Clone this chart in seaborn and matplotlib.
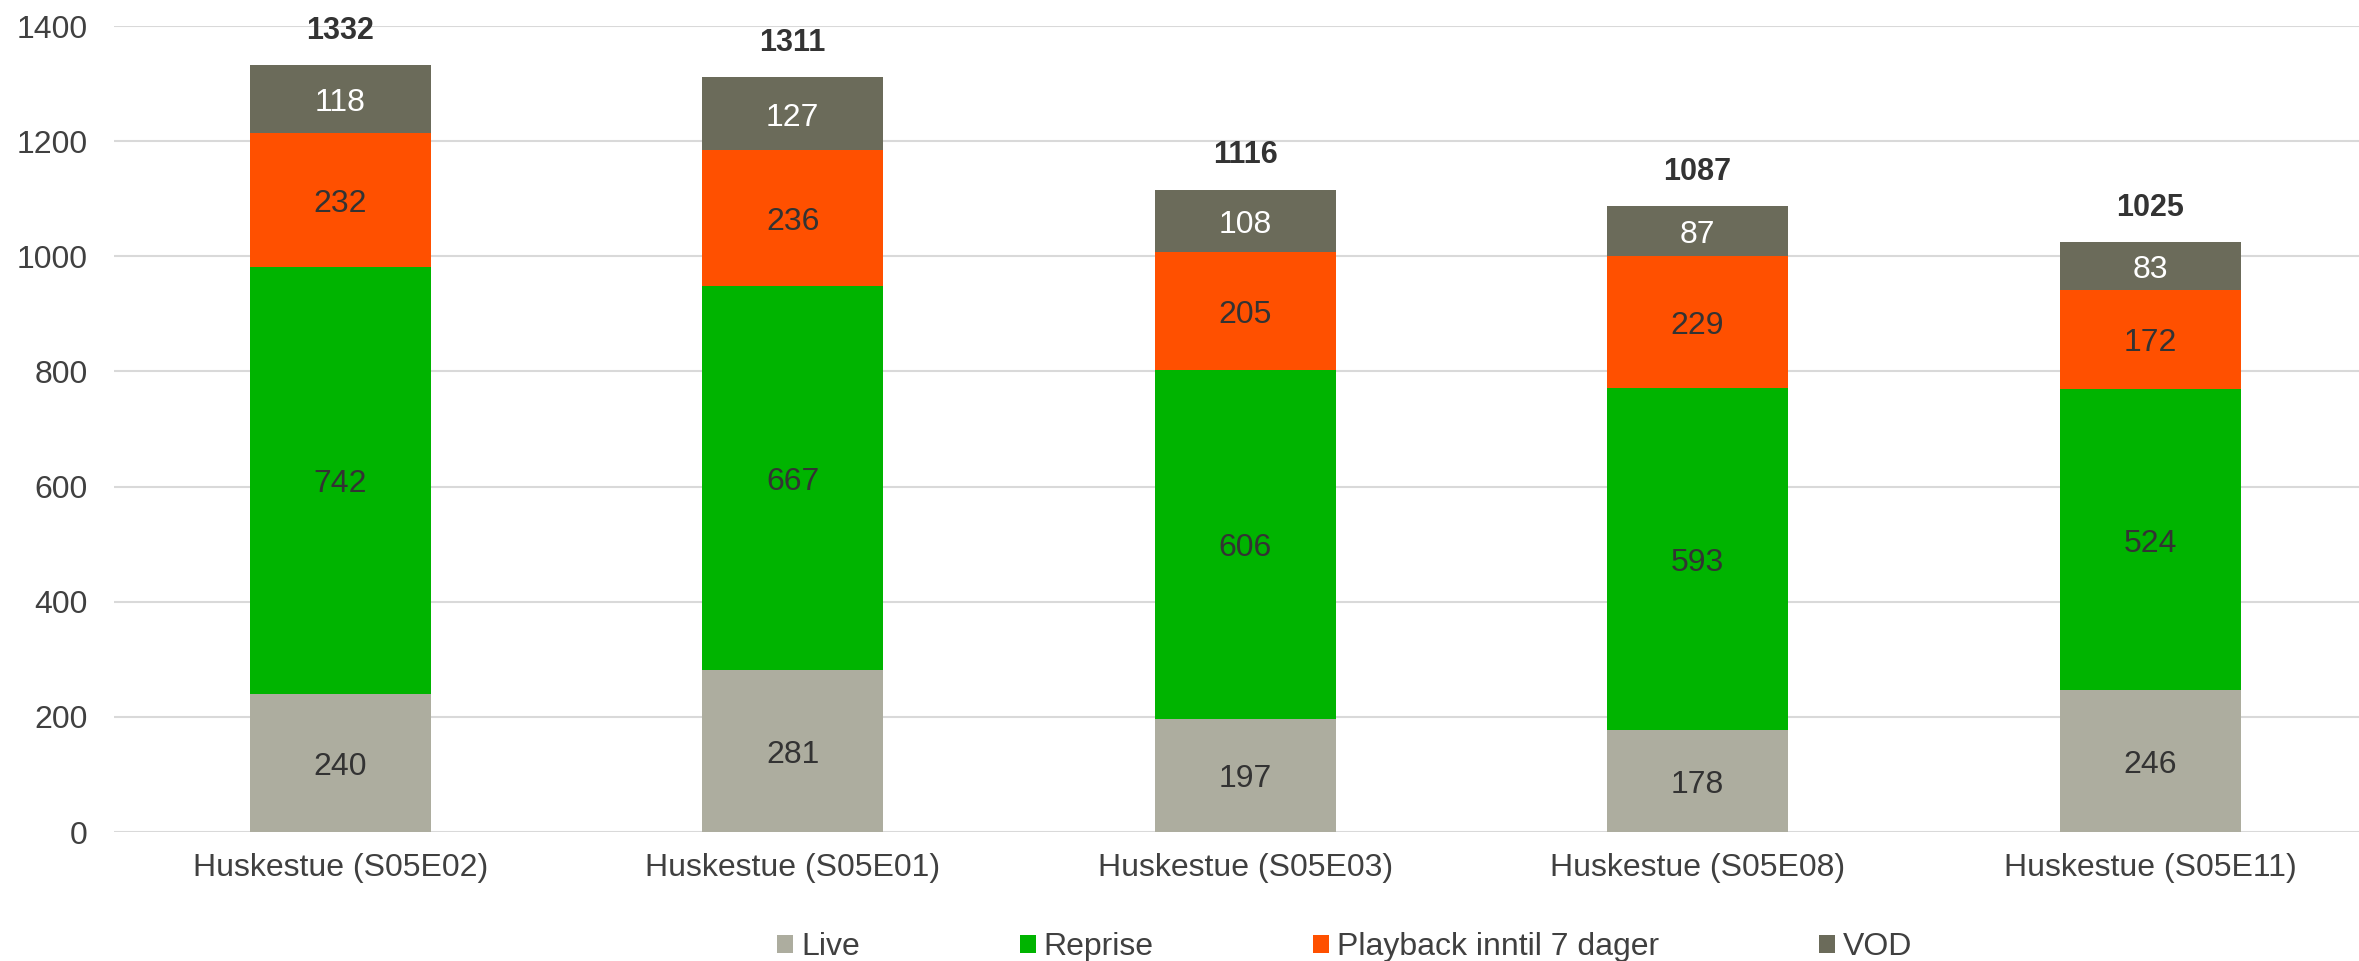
import matplotlib
matplotlib.use("Agg")
import matplotlib.pyplot as plt
from matplotlib.patches import Patch
import numpy as np
import pandas as pd
import seaborn as sns

# ---------------- Data ----------------
episodes = ["Huskestue (S05E02)", "Huskestue (S05E01)", "Huskestue (S05E03)",
            "Huskestue (S05E08)", "Huskestue (S05E11)"]
live = [240, 281, 197, 178, 246]
reprise = [742, 667, 606, 593, 524]
playback = [232, 236, 205, 229, 172]
vod = [118, 127, 108, 87, 83]
totals = [1332, 1311, 1116, 1087, 1025]

series_names = ["Live", "Reprise", "Playback inntil 7 dager", "VOD"]
colors = ["#ADAD9F", "#00B400", "#FF5000", "#6B6B5A"]
label_colors = ["#333333", "#333333", "#333333", "#FFFFFF"]

# ---------------- Style ----------------
sns.set_style("white")
plt.rcParams["font.family"] = ["Liberation Sans", "DejaVu Sans"]
FS = 23

df = pd.DataFrame({"episode": episodes, "Live": live, "Reprise": reprise,
                   "Playback inntil 7 dager": playback, "VOD": vod})
cum = df[series_names].cumsum(axis=1)

fig = plt.figure(figsize=(23.59, 9.61), dpi=100)
ax = fig.add_axes([114 / 2359, 1 - 832 / 961, 1 - 114 / 2359, (832 - 26) / 961])

# draw cumulative bars from top layer down so lower layers cover upper ones
for name, col in reversed(list(zip(series_names, colors))):
    sns.barplot(x=df["episode"], y=cum[name], color=col, width=0.4,
                saturation=1, ax=ax, edgecolor="none", zorder=3)

# segment labels (slightly below the exact centre, like the original)
for name, lc in zip(series_names, label_colors):
    bottoms = cum[name] - df[name]
    for i, (b, v) in enumerate(zip(bottoms, df[name])):
        ax.annotate(f"{v}", (i, b + v / 2), xytext=(0, -3),
                    textcoords="offset points", ha="center", va="center",
                    fontsize=FS, color=lc, zorder=5)

# totals
for i, t in enumerate(totals):
    ax.annotate(f"{t}", (i, t), xytext=(0, 19), textcoords="offset points",
                ha="center", va="baseline", fontsize=22, fontweight="bold",
                color="#333333", annotation_clip=False)

ax.set_ylim(0, 1400)
ax.set_yticks(range(0, 1401, 200))
ax.set_xlim(-0.5, (2359 - 340) / 452.5)
ax.yaxis.grid(True, color="#D9D9D9", linewidth=1.5, zorder=0)
ax.set_axisbelow(True)
for s in ax.spines.values():
    s.set_visible(False)
ax.set_xlabel("")
ax.set_ylabel("")
ax.tick_params(axis="both", labelsize=FS, colors="#404040", length=0)
ax.tick_params(axis="y", pad=19)
ax.tick_params(axis="x", pad=15)

handles = [Patch(facecolor=c, edgecolor="none") for c in colors]
fig.legend(handles, series_names, loc="center", ncol=4,
           bbox_to_anchor=(1345 / 2359, 1 - 947 / 961), frameon=False,
           fontsize=FS, handlelength=0.5, handleheight=0.5,
           handletextpad=0.25, columnspacing=5.0, labelcolor="#404040")

plt.savefig("out.png", dpi=100)
